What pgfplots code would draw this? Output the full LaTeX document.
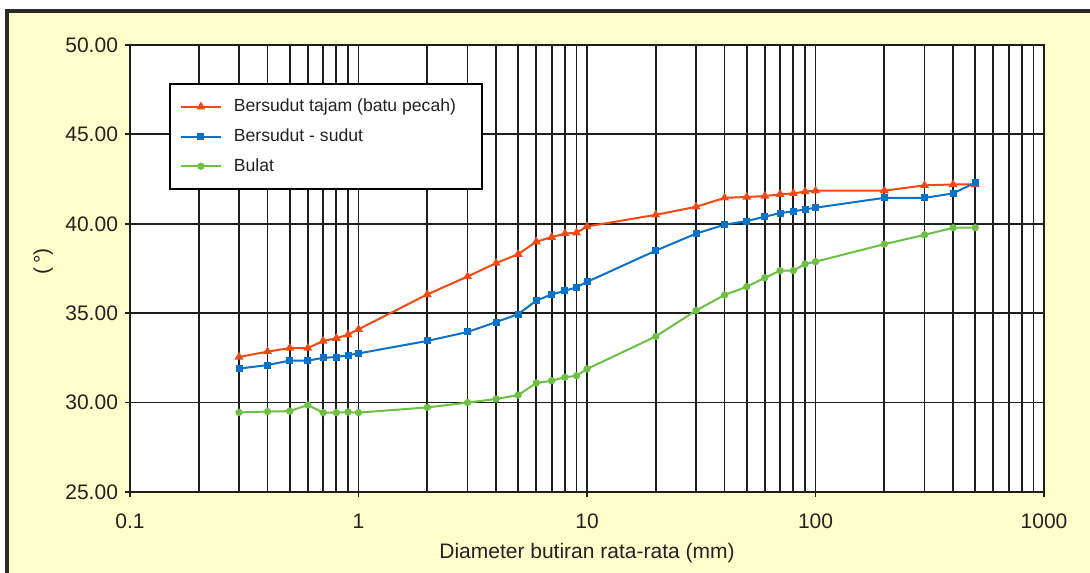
\documentclass[border=0pt]{standalone}
\usepackage{pgfplots}
\pgfplotsset{compat=1.18}
\usepackage{fontspec}
\setmainfont{Liberation Sans}
\definecolor{bgy}{HTML}{FFFFCC}
\definecolor{frm}{HTML}{2B2B2B}
\definecolor{cred}{HTML}{F04A14}
\definecolor{cblue}{HTML}{0A72C8}
\definecolor{cgreen}{HTML}{6CC043}
\definecolor{txt}{HTML}{222222}
\definecolor{gridc}{HTML}{1E1E1E}
\begin{document}
\begin{tikzpicture}
\path[use as bounding box] (0,0) rectangle (545pt,286pt);
\fill[bgy] (4.5pt,-5pt) rectangle (560pt,280pt);
\draw[frm, line width=2pt] (3.5pt,-5pt) -- (3.5pt,280.3pt) -- (560pt,280.3pt);
\begin{axis}[
  at={(65pt,40pt)}, anchor=south west,
  scale only axis, width=457pt, height=223.5pt,
  axis background/.style={fill=white},
  xmode=log, xmin=0.1, xmax=1000, ymin=25, ymax=50,
  xtick={0.1,1,10,100,1000}, xticklabels={0.1,1,10,100,1000},
  minor xtick={0.2,0.3,0.4,0.5,0.6,0.7,0.8,0.9,2,3,4,5,6,7,8,9,20,30,40,50,60,70,80,90,200,300,400,500,600,700,800,900},
  ytick={25,30,...,50},
  xmajorgrids, xminorgrids, ymajorgrids,
  every major grid/.style={gridc, line width=0.9pt},
  every minor grid/.style={gridc, line width=0.9pt},
  axis line style={gridc, line width=0.9pt},
  tick align=outside, major tick length=2.5pt, minor tick length=0pt,
  every tick/.style={gridc, line width=0.9pt},
  xtick pos=bottom, ytick pos=left,
  ticklabel style={font=\fontsize{10.5}{12}\selectfont, text=txt},
  xticklabel style={yshift=-5pt},
  yticklabel style={/pgf/number format/.cd, fixed, fixed zerofill, precision=2, assume math mode=true},
  xlabel={Diameter butiran rata-rata (mm)},
  ylabel={(\,°)},
  every axis x label/.style={at={(axis description cs:0.5,0)}, anchor=center, yshift=-30.5pt, font=\fontsize{10.5}{12}\selectfont, text=txt},
  every axis y label/.style={at={(axis description cs:-0.095,0.516)}, anchor=center, rotate=90, font=\fontsize{10.5}{12}\selectfont, text=txt},
  legend style={at={(0.0427,0.915)}, anchor=north west, draw=black, line width=0.9pt, fill=white,
    font=\fontsize{8.8}{10}\selectfont, text=txt, inner xsep=5pt, inner ysep=5.5pt, row sep=3pt,
    nodes={inner sep=2pt},
    /tikz/every odd column/.append style={column sep=4pt}},
  legend cell align=left,
  legend image code/.code={\draw[#1, mark repeat=2, mark phase=2] plot coordinates {(0pt,0pt) (10pt,0pt) (20pt,0pt)};},
]
\addplot[cred, line width=1pt, mark=triangle*, mark size=1.6pt] coordinates {
(0.3,32.55)(0.4,32.85)(0.5,33.05)(0.6,33.05)(0.7,33.45)(0.8,33.6)(0.9,33.8)(1,34.1)(2,36.05)(3,37.05)(4,37.8)(5,38.3)(6,39.0)(7,39.25)(8,39.45)(9,39.5)(10,39.85)(20,40.5)(30,40.95)(40,41.45)(50,41.5)(60,41.55)(70,41.65)(80,41.7)(90,41.8)(100,41.85)(200,41.85)(300,42.15)(400,42.2)(500,42.2)};
\addlegendentry{Bersudut tajam (batu pecah)\rule{6pt}{0pt}}
\addplot[cblue, line width=1pt, mark=square*, mark size=1.25pt] coordinates {
(0.3,31.9)(0.4,32.1)(0.5,32.35)(0.6,32.35)(0.7,32.5)(0.8,32.55)(0.9,32.65)(1,32.75)(2,33.45)(3,33.95)(4,34.5)(5,34.95)(6,35.7)(7,36.05)(8,36.25)(9,36.45)(10,36.75)(20,38.5)(30,39.45)(40,39.95)(50,40.15)(60,40.4)(70,40.6)(80,40.7)(90,40.8)(100,40.9)(200,41.45)(300,41.45)(400,41.7)(500,42.3)};
\addlegendentry{Bersudut - sudut}
\addplot[cgreen, line width=1pt, mark=*, mark size=1.3pt] coordinates {
(0.3,29.45)(0.4,29.5)(0.5,29.52)(0.6,29.87)(0.7,29.44)(0.8,29.44)(0.9,29.47)(1,29.44)(2,29.73)(3,30.0)(4,30.2)(5,30.42)(6,31.1)(7,31.22)(8,31.42)(9,31.5)(10,31.88)(20,33.7)(30,35.15)(40,36.02)(50,36.48)(60,36.98)(70,37.38)(80,37.38)(90,37.75)(100,37.88)(200,38.86)(300,39.38)(400,39.78)(500,39.78)};
\addlegendentry{Bulat}
\end{axis}
\end{tikzpicture}
\end{document}
